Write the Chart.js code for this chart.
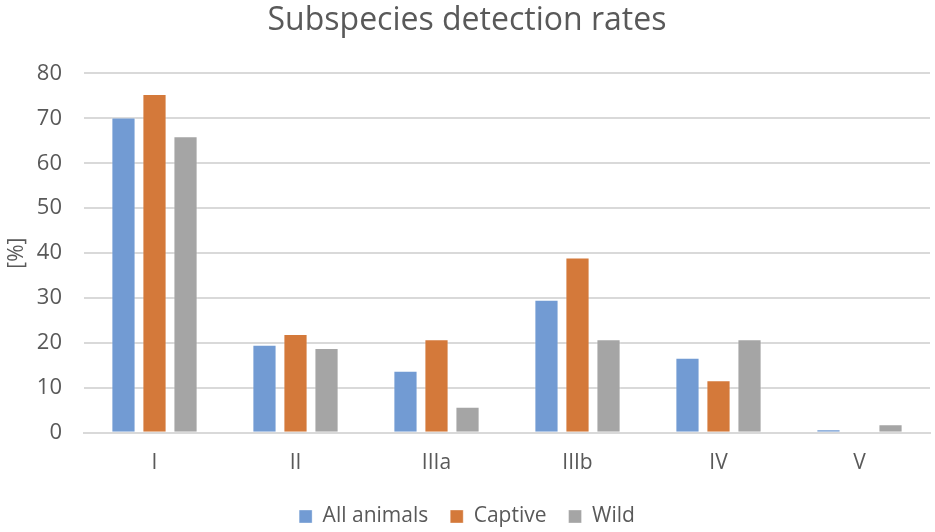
<!DOCTYPE html>
<html>
<head>
<meta charset="utf-8">
<script src="https://cdn.jsdelivr.net/npm/chart.js@4.4.1/dist/chart.umd.min.js"></script>
<style>
  html, body { margin: 0; padding: 0; background: #fff; }
  #wrap { width: 935px; height: 532px; position: relative; }
</style>
</head>
<body>
<div id="wrap"><canvas id="chart"></canvas></div>
<script>
// data
const categories = ['I', 'II', 'IIIa', 'IIIb', 'IV', 'V'];
const allAnimals = [70.2, 19.6, 13.8, 29.6, 16.7, 0.8];
const captive    = [75.4, 22.0, 20.8, 39.0, 11.7, 0];
const wild       = [66.0, 18.9, 5.8, 20.8, 20.8, 1.9];
const yTicks     = [0, 10, 20, 30, 40, 50, 60, 70, 80];

const textColor = '#595959';
const fontFamily = "'Open Sans', 'Noto Sans', sans-serif";

function bar(label, data, color) {
    return {
        label: label,
        data: data,
        backgroundColor: color,
        borderColor: 'rgba(255,255,255,0.35)',
        borderWidth: 1,
        categoryPercentage: 0.66,
        barPercentage: 0.78
    };
}

new Chart(document.getElementById('chart'), {
    type: 'bar',
    data: {
        labels: categories,
        datasets: [
            bar('All animals', allAnimals, '#729bd3'),
            bar('Captive', captive, '#d4793a'),
            bar('Wild', wild, '#a5a5a5')
        ]
    },
    options: {
        responsive: true,
        maintainAspectRatio: false,
        animation: false,
        layout: { padding: { left: 4, right: 5, top: 2, bottom: -5 } },
        plugins: {
            title: {
                display: true,
                text: 'Subspecies detection rates',
                color: textColor,
                font: { family: fontFamily, size: 32, weight: 'normal' },
                padding: { top: 0, bottom: 33 }
            },
            legend: {
                position: 'bottom',
                labels: {
                    color: textColor,
                    font: { family: fontFamily, size: 21 },
                    boxWidth: 13,
                    boxHeight: 13,
                    padding: 22
                }
            },
            tooltip: { enabled: false }
        },
        scales: {
            x: {
                afterFit: axis => { axis.height = axis.height - 10; },
                grid: { display: false, drawTicks: false },
                border: { color: '#d9d9d9', width: 2 },
                ticks: {
                    color: textColor,
                    font: { family: fontFamily, size: 21 },
                    padding: 18
                }
            },
            y: {
                min: 0,
                max: 80,
                afterBuildTicks: axis => { axis.ticks = yTicks.map(v => ({ value: v })); },
                afterFit: axis => { axis.width = 80; },
                grid: { color: '#d9d9d9', lineWidth: 2, drawTicks: false },
                border: { display: false },
                ticks: {
                    color: textColor,
                    font: { family: fontFamily, size: 22 },
                    padding: 22
                },
                title: {
                    display: true,
                    text: '[%]',
                    color: textColor,
                    font: { family: fontFamily, size: 21 },
                    padding: { top: 0, bottom: 2 }
                }
            }
        }
    }
});
</script>
</body>
</html>
